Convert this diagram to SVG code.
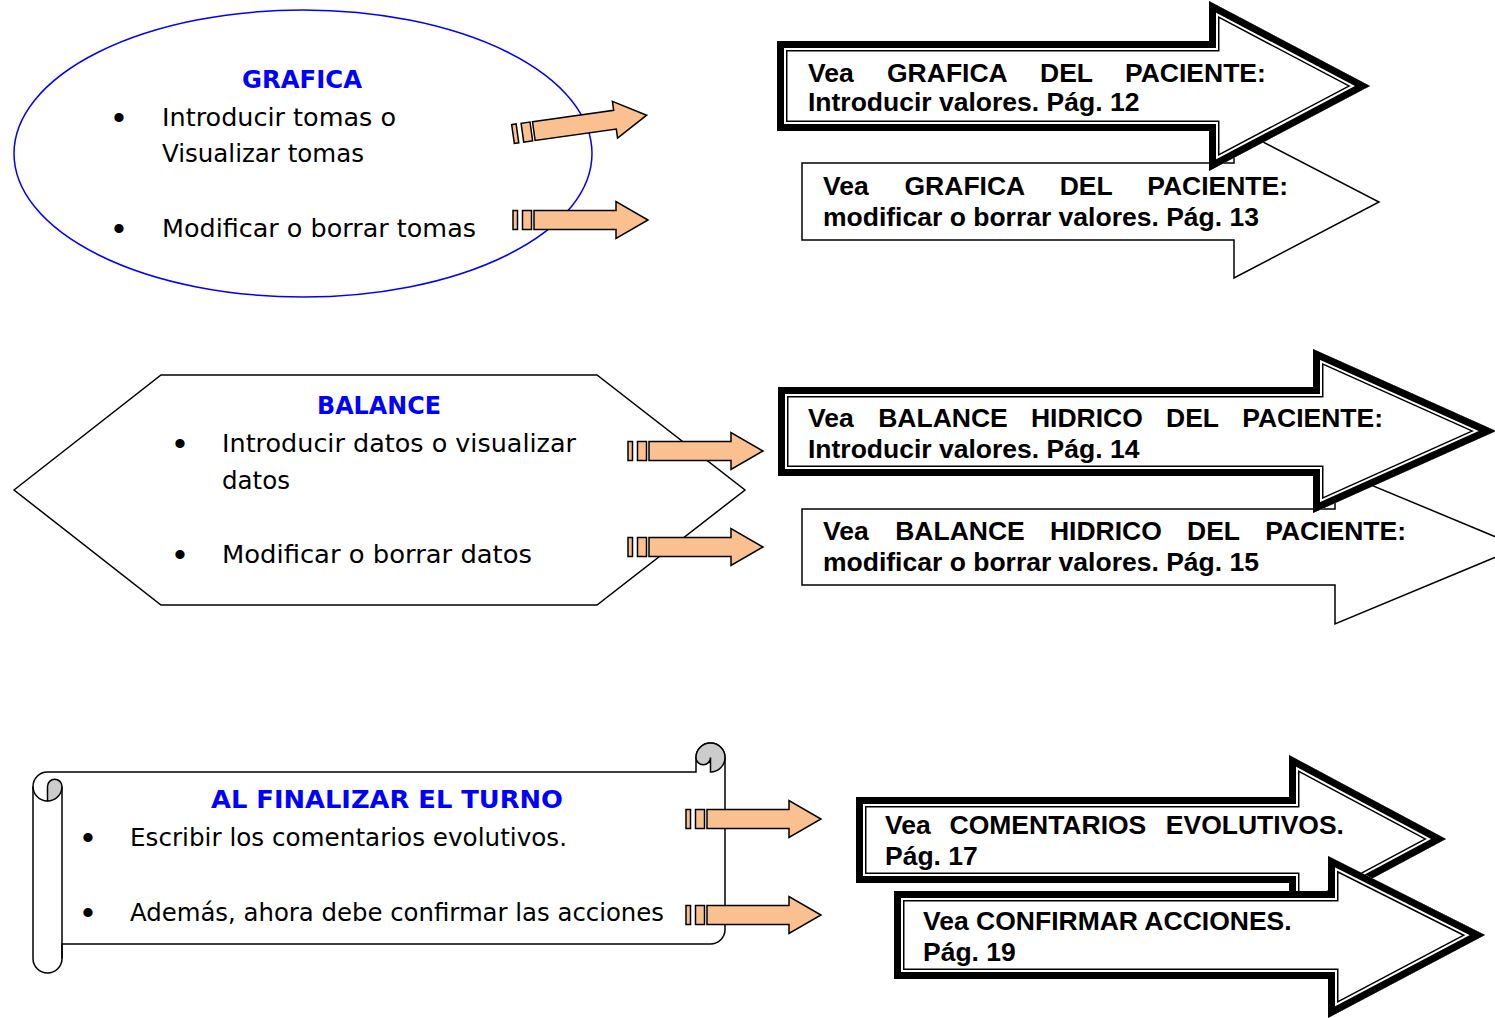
<svg xmlns="http://www.w3.org/2000/svg" xmlns:xlink="http://www.w3.org/1999/xlink" width="1495" height="1018" viewBox="0 0 1495 1018">
  <style>
    .body { font-family: "DejaVu Sans", "Liberation Sans", sans-serif; font-size: 24px; fill: #000; }
    .title { font-family: "DejaVu Sans", "Liberation Sans", sans-serif; font-size: 25px; font-weight: bold; fill: #0000ff; text-anchor: middle; }
    .ref { font-family: "Liberation Sans", Arial, sans-serif; font-size: 26.5px; font-weight: bold; fill: #000; }
    .bullet { font-family: "Liberation Sans", Arial, sans-serif; font-size: 34px; fill: #000; text-anchor: middle; }
    .thin { fill: #fff; stroke: #000; stroke-width: 1.5; stroke-linejoin: miter; }
    .tk1 { fill: #fff; stroke: #000; stroke-width: 21; stroke-linejoin: miter; stroke-miterlimit: 10; }
    .tk2 { fill: none; stroke: #fff; stroke-width: 18; stroke-linejoin: miter; stroke-miterlimit: 10; }
    .tk3 { fill: none; stroke: #000; stroke-width: 14; stroke-linejoin: miter; stroke-miterlimit: 10; }
    .pipe { fill: #fac08f; stroke: #000; stroke-width: 1.5; stroke-linejoin: miter; }
    .curl { fill: #cccccc; stroke: #000; stroke-width: 1.5; }
    .line { fill: none; stroke: #000; stroke-width: 1.5; }
  </style>
  <defs>
    <!-- block arrow outlines -->
    <polygon id="p-a1" points="777,41 1209,41 1209,1 1370,86 1209,171 1209,131 777,131"/>
    <polygon id="p-a3" points="778,387 1313,387 1313,349 1496,431 1313,513 1313,476 778,476"/>
    <polygon id="p-a5" points="856,797 1289,797 1289,755 1446,839 1289,923 1289,883 856,883"/>
    <polygon id="p-a6" points="894,891 1328,891 1328,856 1485,935 1328,1018 1328,979 894,979"/>
    <clipPath id="c-a1"><use xlink:href="#p-a1"/></clipPath>
    <clipPath id="c-a3"><use xlink:href="#p-a3"/></clipPath>
    <clipPath id="c-a5"><use xlink:href="#p-a5"/></clipPath>
    <clipPath id="c-a6"><use xlink:href="#p-a6"/></clipPath>
    <!-- small striped pointer, left-centre origin -->
    <g id="pointer">
      <rect class="pipe" x="0" y="-9.5" width="4.5" height="19"/>
      <rect class="pipe" x="9.5" y="-9.5" width="9" height="19"/>
      <polygon class="pipe" points="21,-9.5 103,-9.5 103,-18.5 135,0 103,18.5 103,9.5 21,9.5"/>
    </g>
  </defs>

  <rect x="0" y="0" width="1495" height="1018" fill="#fff"/>

  <!-- GRAFICA ellipse -->
  <g id="node-grafica">
    <ellipse cx="303" cy="153.5" rx="289" ry="143.5" fill="#fff" stroke="#0000ff" stroke-width="1.5"/>
    <text class="title" x="302" y="88" textLength="120" lengthAdjust="spacingAndGlyphs">GRAFICA</text>
    <text class="bullet" x="119" y="129">•</text>
    <text class="body" x="162" y="126" textLength="234" lengthAdjust="spacingAndGlyphs">Introducir tomas o</text>
    <text class="body" x="162" y="162" textLength="202" lengthAdjust="spacingAndGlyphs">Visualizar tomas</text>
    <text class="bullet" x="119" y="240">•</text>
    <text class="body" x="162" y="237" textLength="314" lengthAdjust="spacingAndGlyphs">Modificar o borrar tomas</text>
  </g>

  <!-- BALANCE hexagon -->
  <g id="node-balance">
    <polygon points="14,490 161,375 597,375 745,490 597,605 161,605" fill="#fff" stroke="#000" stroke-width="1.5"/>
    <text class="title" x="379" y="414" textLength="124" lengthAdjust="spacingAndGlyphs">BALANCE</text>
    <text class="bullet" x="180" y="455">•</text>
    <text class="body" x="222" y="452" textLength="354" lengthAdjust="spacingAndGlyphs">Introducir datos o visualizar</text>
    <text class="body" x="222" y="489" textLength="68" lengthAdjust="spacingAndGlyphs">datos</text>
    <text class="bullet" x="180" y="566">•</text>
    <text class="body" x="222" y="563" textLength="310" lengthAdjust="spacingAndGlyphs">Modificar o borrar datos</text>
  </g>

  <!-- end-of-shift scroll -->
  <g id="node-turno">
    <path d="M47.5,772 L696,772 L696,757.5 A14.5,14.5 0 0 1 725,757.5 L725,929.5 A14.5,14.5 0 0 1 710.5,944 L62,944 L62,958.5 A14.5,14.5 0 0 1 33,958.5 L33,786.5 A14.5,14.5 0 0 1 47.5,772 Z" fill="#fff" stroke="#000" stroke-width="1.5"/>
    <path class="line" d="M62,786.5 V958.5 M33,786.5 A14.5,14.5 0 0 0 47.5,801"/>
    <path class="curl" d="M47.5,801 A14.5,14.5 0 0 0 62,786.5 A7.25,7.25 0 0 0 47.5,786.5 Z"/>
    <path class="curl" d="M696,757.5 A14.5,14.5 0 0 1 725,757.5 A14.5,14.5 0 0 1 710.5,772 L710.5,757.5 A7.25,7.25 0 0 1 696,757.5 Z"/>
    <text class="title" x="387" y="808" textLength="352" lengthAdjust="spacingAndGlyphs">AL FINALIZAR EL TURNO</text>
    <text class="bullet" x="88" y="849">•</text>
    <text class="body" x="130" y="846" textLength="437" lengthAdjust="spacingAndGlyphs">Escribir los comentarios evolutivos.</text>
    <text class="bullet" x="88" y="924">•</text>
    <text class="body" x="130" y="921" textLength="534" lengthAdjust="spacingAndGlyphs">Además, ahora debe confirmar las acciones</text>
  </g>

  <!-- GRAFICA: modify / delete (plain outline, behind) -->
  <g id="node-grafica-modificar">
    <polygon class="thin" points="802,163 1234,163 1234,127 1379,202 1234,278 1234,240 802,240"/>
    <text class="ref" y="194.5"><tspan x="823">Vea</tspan><tspan x="904.5">GRAFICA</tspan><tspan x="1059.7">DEL</tspan><tspan x="1147.2">PACIENTE:</tspan></text>
    <text class="ref" x="823" y="225.5">modificar o borrar valores. Pág. 13</text>
  </g>

  <!-- GRAFICA: enter values (double outline) -->
  <g id="node-grafica-introducir">
    <g clip-path="url(#c-a1)">
      <use xlink:href="#p-a1" class="tk1"/>
      <use xlink:href="#p-a1" class="tk2"/>
      <use xlink:href="#p-a1" class="tk3"/>
    </g>
    <text class="ref" y="81.5"><tspan x="808">Vea</tspan><tspan x="887">GRAFICA</tspan><tspan x="1040">DEL</tspan><tspan x="1125">PACIENTE:</tspan></text>
    <text class="ref" x="808" y="111">Introducir valores. Pág. 12</text>
  </g>

  <!-- BALANCE: modify / delete (plain outline, behind) -->
  <g id="node-balance-modificar">
    <polygon class="thin" points="802,509 1335,509 1335,470 1520,547 1335,624 1335,585 802,585"/>
    <text class="ref" y="539.5"><tspan x="823">Vea</tspan><tspan x="895.2">BALANCE</tspan><tspan x="1049.9">HIDRICO</tspan><tspan x="1187">DEL</tspan><tspan x="1265.2">PACIENTE:</tspan></text>
    <text class="ref" x="823" y="570.5">modificar o borrar valores. Pág. 15</text>
  </g>

  <!-- BALANCE: enter values (double outline) -->
  <g id="node-balance-introducir">
    <g clip-path="url(#c-a3)">
      <use xlink:href="#p-a3" class="tk1"/>
      <use xlink:href="#p-a3" class="tk2"/>
      <use xlink:href="#p-a3" class="tk3"/>
    </g>
    <text class="ref" y="426.5"><tspan x="808">Vea</tspan><tspan x="878.2">BALANCE</tspan><tspan x="1030.9">HIDRICO</tspan><tspan x="1166">DEL</tspan><tspan x="1242.2">PACIENTE:</tspan></text>
    <text class="ref" x="808" y="457.5">Introducir valores. Pág. 14</text>
  </g>

  <!-- comments -->
  <g id="node-comentarios">
    <g clip-path="url(#c-a5)">
      <use xlink:href="#p-a5" class="tk1"/>
      <use xlink:href="#p-a5" class="tk2"/>
      <use xlink:href="#p-a5" class="tk3"/>
    </g>
    <text class="ref" y="833.5"><tspan x="885">Vea</tspan><tspan x="949.5">COMENTARIOS</tspan><tspan x="1165.8">EVOLUTIVOS.</tspan></text>
    <text class="ref" x="885" y="864.5">Pág. 17</text>
  </g>

  <!-- confirm actions -->
  <g id="node-confirmar">
    <g clip-path="url(#c-a6)">
      <use xlink:href="#p-a6" class="tk1"/>
      <use xlink:href="#p-a6" class="tk2"/>
      <use xlink:href="#p-a6" class="tk3"/>
    </g>
    <text class="ref" x="923" y="929.5">Vea CONFIRMAR ACCIONES.</text>
    <text class="ref" x="923" y="960.5">Pág. 19</text>
  </g>

  <!-- striped pointers linking each item to its reference -->
  <g id="connectors">
    <use xlink:href="#pointer" transform="translate(513,134) rotate(-8)"/>
    <use xlink:href="#pointer" transform="translate(513,220)"/>
    <use xlink:href="#pointer" transform="translate(628,451)"/>
    <use xlink:href="#pointer" transform="translate(628,547)"/>
    <use xlink:href="#pointer" transform="translate(686,819)"/>
    <use xlink:href="#pointer" transform="translate(686,915)"/>
  </g>
</svg>
